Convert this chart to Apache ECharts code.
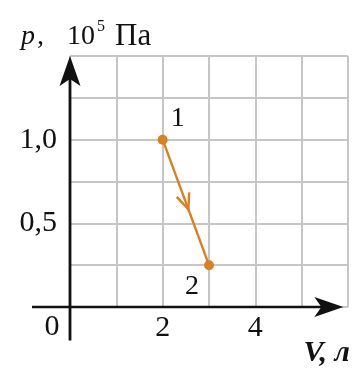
<!DOCTYPE html>
<html><head><meta charset="utf-8">
<script src="https://cdn.jsdelivr.net/npm/echarts@6/dist/echarts.min.js"></script>
<style>html,body{margin:0;padding:0;background:#fff}#c{width:362px;height:373px}</style>
</head><body><div id="c"></div>
<script>
// ---- data ----
const stateNames = ['1', '2'];
const volume = [2, 3];          // V, л
const pressure = [1.0, 0.25];   // p, 10^5 Па
const xTickValues = [2, 4];
const xTickLabels = ['2', '4'];
const yTickValues = [0.5, 1.0];
const yTickLabels = ['0,5', '1,0'];
const originLabel = '0';

// ---- style ----
const ORANGE = '#d9801f';
const INK = '#111111';
const GRIDC = '#c6c6c6';
const SERIF = '"Liberation Serif", "DejaVu Serif", serif';

const chart = echarts.init(document.getElementById('c'), null, {renderer: 'canvas'});

function lbl(values, labels) {
  return v => {
    const i = values.findIndex(t => Math.abs(t - v) < 1e-9);
    return i >= 0 ? labels[i] : '';
  };
}

const labelOffsets = [[15, -21], [-17, 21]];

chart.setOption({
  animation: false,
  backgroundColor: '#fff',
  grid: {left: 70, right: 14, top: 56, bottom: 66},
  xAxis: {
    type: 'value', min: 0, max: 6, interval: 1,
    axisLine: {show: false}, axisTick: {show: false},
    axisLabel: {formatter: lbl(xTickValues, xTickLabels), fontFamily: SERIF, fontSize: 30, color: INK, margin: 6},
    splitLine: {show: true, lineStyle: {color: GRIDC, width: 2}}
  },
  yAxis: {
    type: 'value', min: 0, max: 1.5, interval: 0.25,
    axisLine: {show: false}, axisTick: {show: false},
    axisLabel: {formatter: lbl(yTickValues, yTickLabels), fontFamily: SERIF, fontSize: 30, color: INK, margin: 13},
    splitLine: {show: true, lineStyle: {color: GRIDC, width: 2}}
  },
  series: [{
    type: 'line',
    data: volume.map((v, i) => ({
      value: [v, pressure[i]], name: stateNames[i],
      label: {show: true, position: 'inside', offset: labelOffsets[i], formatter: '{b}',
        fontFamily: SERIF, fontSize: 28, color: INK}
    })),
    symbol: 'circle', symbolSize: 10,
    itemStyle: {color: ORANGE},
    lineStyle: {color: ORANGE, width: 2.4},
    z: 5
  }]
});

function px(x, y) { return chart.convertToPixel({gridIndex: 0}, [x, y]); }

function build() {
  const g = [];
  // y axis: from below x-axis up to the arrow tip
  const yb = px(0, -0.2), yt = px(0, 1.5);
  g.push({type: 'line', shape: {x1: yb[0], y1: yb[1], x2: yt[0], y2: yt[1] + 20}, style: {stroke: INK, lineWidth: 2.8}, z: 10});
  g.push({type: 'polygon', shape: {points: [[yt[0], yt[1]], [yt[0] + 10.5, yt[1] + 30], [yt[0], yt[1] + 23], [yt[0] - 10.5, yt[1] + 30]]}, style: {fill: INK}, z: 10});
  // x axis
  const xl = px(-0.82, 0), xr = px(5.9, 0);
  g.push({type: 'line', shape: {x1: xl[0], y1: xl[1], x2: xr[0] - 20, y2: xr[1]}, style: {stroke: INK, lineWidth: 2.6}, z: 10});
  g.push({type: 'polygon', shape: {points: [[xr[0], xr[1]], [xr[0] - 29, xr[1] - 10], [xr[0] - 22, xr[1]], [xr[0] - 29, xr[1] + 10]]}, style: {fill: INK}, z: 10});
  // origin label
  const o = px(0, 0);
  g.push({type: 'text', x: o[0] - 18, y: o[1] + 20, style: {text: originLabel, font: '30px ' + SERIF, fill: INK, align: 'center', verticalAlign: 'middle'}, z: 10});
  // direction chevron on the 1 -> 2 segment
  const a = px(volume[0], pressure[0]), b = px(volume[1], pressure[1]);
  const t = 0.555;
  const tip = [a[0] + (b[0] - a[0]) * t, a[1] + (b[1] - a[1]) * t];
  const ang = Math.atan2(a[1] - b[1], a[0] - b[0]);
  const L = 17, d = 23 * Math.PI / 180;
  const p1 = [tip[0] + L * Math.cos(ang + d), tip[1] + L * Math.sin(ang + d)];
  const p2 = [tip[0] + L * Math.cos(ang - d), tip[1] + L * Math.sin(ang - d)];
  g.push({type: 'polyline', shape: {points: [p1, tip, p2]}, style: {stroke: ORANGE, lineWidth: 2.4, fill: null}, z: 11});
  // axis titles
  const tf = 28;
  g.push({type: 'text', x: 21, y: 37, style: {text: 'p', font: 'italic ' + tf + 'px ' + SERIF, fill: INK, verticalAlign: 'middle'}, z: 10});
  g.push({type: 'text', x: 37, y: 37, style: {text: ',', font: tf + 'px ' + SERIF, fill: INK, verticalAlign: 'middle'}, z: 10});
  g.push({type: 'text', x: 67, y: 37, style: {text: '10', font: tf + 'px ' + SERIF, fill: INK, verticalAlign: 'middle'}, z: 10});
  g.push({type: 'text', x: 97, y: 27, style: {text: '5', font: '16px ' + SERIF, fill: INK, verticalAlign: 'middle'}, z: 10});
  g.push({type: 'text', x: 115, y: 37, style: {text: 'Па', font: '31px ' + SERIF, fill: INK, verticalAlign: 'middle'}, z: 10});
  g.push({type: 'text', x: 350, y: 353, style: {text: 'V, л', font: 'italic bold 30px ' + SERIF, fill: INK, align: 'right', verticalAlign: 'middle'}, z: 10});
  chart.setOption({graphic: {elements: g}});
}
build();
</script>
</body></html>
